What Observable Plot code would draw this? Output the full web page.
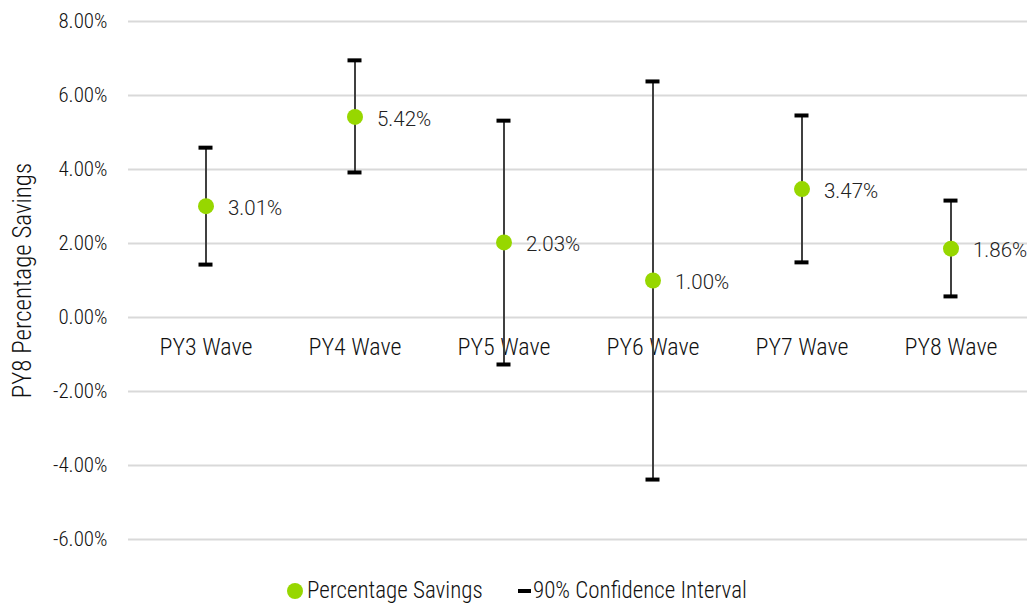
<!DOCTYPE html>
<html>
<head>
<meta charset="utf-8">
<script src="https://cdn.jsdelivr.net/npm/d3@7"></script>
<script src="https://cdn.jsdelivr.net/npm/@observablehq/plot@0.6"></script>
<style>
  body { margin: 0; background: #fff; font-family: "Roboto Condensed", sans-serif; font-weight: 300; }
  #legend { position: relative; height: 35px; font-size: 23px; color: #111; }
  .li { position: absolute; top: 8px; display: flex; align-items: center; line-height: 26px; }
  .dot { width: 16px; height: 16px; border-radius: 50%; background: #97d700; display: inline-block; margin-right: 4px; }
  .dash { width: 13px; height: 4px; background: #000; display: inline-block; margin-right: 2px; }
</style>
</head>
<body>
<div id="chart"></div>
<div id="legend">
  <span class="li" style="left:287px"><span class="dot"></span><span>Percentage Savings</span></span>
  <span class="li" style="left:518px"><span class="dash"></span><span>90% Confidence Interval</span></span>
</div>
<script>
const waves = ["PY3 Wave", "PY4 Wave", "PY5 Wave", "PY6 Wave", "PY7 Wave", "PY8 Wave"];
const savings = [3.01, 5.42, 2.03, 1.00, 3.47, 1.86];
const ciHigh = [4.59, 6.95, 5.32, 6.38, 5.46, 3.16];
const ciLow = [1.43, 3.92, -1.27, -4.38, 1.49, 0.57];
const yTicks = [-6, -4, -2, 0, 2, 4, 6, 8];

const data = waves.map((w, i) => ({wave: w, value: savings[i], hi: ciHigh[i], lo: ciLow[i]}));
const fmt = d => d.toFixed(2) + "%";
const cond = '"Roboto Condensed", sans-serif';

const chart = Plot.plot({
  width: 1032,
  height: 570,
  marginTop: 21,
  marginBottom: 31,
  marginLeft: 128,
  marginRight: 5,
  style: { fontFamily: cond, fontWeight: 300, fontSize: "21px", color: "#111", background: "#fff" },
  x: { domain: waves, padding: 0, axis: null },
  y: { domain: [-6, 8] },
  marks: [
    Plot.gridY(yTicks, { stroke: "#d9d9d9", strokeOpacity: 1, strokeWidth: 2 }),
    Plot.axisY(yTicks, { tickFormat: fmt, tickSize: 0, tickPadding: 21, fontSize: 21, fill: "#111", label: null }),
    Plot.text(["PY8 Percentage Savings"], { frameAnchor: "left", text: d => d, rotate: -90, dx: -106, fontSize: 25, fill: "#111", textAnchor: "middle" }),
    Plot.text(data, { x: "wave", y: () => 0, text: "wave", dy: 30, fontSize: 24, fill: "#111" }),
    Plot.ruleX(data, { x: "wave", y1: "lo", y2: "hi", stroke: "#404040", strokeWidth: 2 }),
    Plot.tickY(data, { x: "wave", y: "hi", stroke: "#000", strokeWidth: 4, inset: 67.5 }),
    Plot.tickY(data, { x: "wave", y: "lo", stroke: "#000", strokeWidth: 4, inset: 67.5 }),
    Plot.dot(data, { x: "wave", y: "value", r: 8, fill: "#97d700", stroke: "none" }),
    Plot.text(data, { x: "wave", y: "value", text: d => fmt(d.value), textAnchor: "start", dx: 22, dy: 2, fontSize: 20.5, fill: "#222", fontWeight: 300, fontFamily: "Roboto, sans-serif" })
  ]
});
document.getElementById("chart").appendChild(chart);
</script>
</body>
</html>
